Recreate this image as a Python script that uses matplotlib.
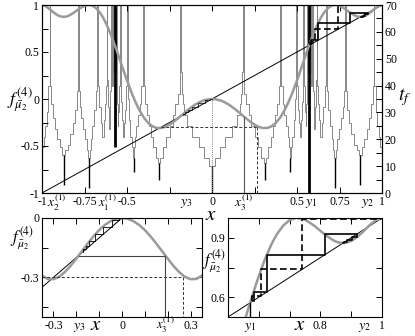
import matplotlib
matplotlib.use('Agg')
import matplotlib.pyplot as plt

plt.rcParams['font.family'] = ['Liberation Serif', 'DejaVu Serif']
plt.rcParams['mathtext.fontset'] = 'stix'
plt.rcParams['axes.unicode_minus'] = False

# ---------------- data ----------------
# f^(4) curve, right half (the curve is symmetric about x = 0)
curve_x = [0, .025, .05, .075, .1, .125, .15, .175, .2, .225, .25, .275, .3, .325,
           .35, .375, .4, .425, .45, .475, .5, .52, .54, .55, .56, .58, .6, .62, .64,
           .65, .66, .68, .7, .72, .74, .75, .76, .78, .8, .82, .84, .85, .86, .88,
           .9, .92, .94, .95, .96, .98, 1.0]
curve_y = [0.0, -0.004, -0.016, -0.035, -0.061, -0.093, -0.129, -0.167, -0.205,
           -0.242, -0.273, -0.297, -0.309, -0.308, -0.291, -0.255, -0.200, -0.126,
           -0.033, 0.076, 0.198, 0.301, 0.407, 0.460, 0.512, 0.613, 0.707, 0.792,
           0.864, 0.894, 0.921, 0.963, 0.989, 1.000, 0.997, 0.991, 0.982, 0.961,
           0.935, 0.910, 0.889, 0.881, 0.876, 0.874, 0.884, 0.905, 0.933, 0.949,
           0.964, 0.989, 1.0]

# t_f staircase, right half: step edges and levels (mirrored on the left)
tf_edges = [0, 0.02, 0.045, 0.075, 0.115, 0.145, 0.163, 0.173, 0.178, 0.1815,
            0.1855, 0.19, 0.20, 0.215, 0.23, 0.25, 0.27, 0.29, 0.303, 0.317, 0.33,
            0.345, 0.36, 0.372, 0.383, 0.392, 0.398, 0.4015, 0.4055, 0.415, 0.425,
            0.435, 0.445, 0.452, 0.458, 0.465, 0.472, 0.48, 0.488, 0.496, 0.4995,
            0.505, 0.512, 0.519, 0.524, 0.53, 0.537, 0.541, 0.546, 0.551, 0.555,
            0.559, 0.563, 0.566, 0.569, 0.574, 0.577, 0.581, 0.585, 0.589, 0.593,
            0.598, 0.602, 0.607, 0.612, 0.615, 0.619, 0.625, 0.632, 0.638, 0.648,
            0.655, 0.663, 0.670, 0.6735, 0.6775, 0.685, 0.693, 0.703, 0.712, 0.719,
            0.731, 0.738, 0.748, 0.758, 0.768, 0.776, 0.783, 0.7865, 0.79, 0.797,
            0.807, 0.82, 0.835, 0.85, 0.864, 0.883, 0.895, 0.91, 0.925, 0.937,
            0.945, 0.9505, 0.9545, 0.962, 0.97, 0.98, 0.99, 1.0]
tf_levels = [10, 13, 17, 21, 25, 29, 33, 37, 45, 70,
             45, 37, 33, 29, 25, 21, 17, 13, 11, 13,
             17, 21, 25, 29, 33, 40, 48, 70, 40, 33,
             29, 25, 21, 17, 13, 17, 21, 27, 35, 70,
             40, 31, 26, 21, 27, 34, 70, 40, 30, 25,
             33, 70, 45, 70, 60, 70, 45, 70, 40, 70,
             38, 28, 24, 32, 42, 70, 40, 33, 27, 21,
             26, 32, 40, 52, 70, 38, 31, 25, 20, 16,
             13, 16, 20, 24, 28, 32, 38, 70, 45, 38,
             31, 26, 22, 18, 16, 14, 17, 20, 24, 28,
             33, 40, 70, 40, 30, 25, 21, 17]

# black segments of t_f (x, low, high), right half
tf_black_x = [0.31, 0.458, 0.725, 0.8735]
tf_black_lo = [5, 8, 2, 3]
tf_black_hi = [11, 13, 13, 14]
tf_zero_x, tf_zero_hi = 0.0, 10

# special points
y1, y2, y3 = 0.5717, 0.953, -0.19
x1_1, x2_1, x3_1 = -0.5717, -0.953, 0.19
x_dash = 0.265
y_dash = -0.3

# cobweb iterates of f^(4)
small_cobweb = [-0.17, -0.159, -0.1423, -0.117, -0.0826, -0.043, -0.0125, -0.001]
solid_cobweb = [0.5828, 0.626, 0.8135, 0.918, 0.9025, 0.8865, 0.8773, 0.8745]
dashed_cobweb = [0.579, 0.608, 0.741, 0.996, 1.0]

# ---------------- helpers ----------------
full_cx = [-v for v in curve_x[::-1]] + curve_x[1:]
full_cy = curve_y[::-1] + curve_y[1:]
full_edges = [-e for e in tf_edges[::-1]] + tf_edges[1:]
full_levels = tf_levels[::-1] + tf_levels
assert len(full_edges) == len(full_levels) + 1


def cobweb(it):
    xs, ys = [it[0]], [it[0]]
    for a, b in zip(it[:-1], it[1:]):
        xs += [a, b]
        ys += [b, b]
    return xs, ys


CURVE = '#9a9a9a'
STAIR = '#808080'

W, H = 415, 336
fig = plt.figure(figsize=(W / 100, H / 100), dpi=100)


def px(x0, y0, x1, y1):
    return [x0 / W, 1 - y1 / H, (x1 - x0) / W, (y1 - y0) / H]


def ftext(x, y, s, size=9, **kw):
    fig.text(x / W, 1 - y / H, s, fontsize=size, ha='center', va='center', **kw)


def style(a):
    a.tick_params(which='both', direction='in', labelsize=8.5, pad=2)
    a.tick_params(which='major', length=4, width=0.7)
    a.tick_params(which='minor', length=4, width=0.7)
    for s in a.spines.values():
        s.set_linewidth(0.8)

# ---------------- top panel ----------------
ax = fig.add_axes(px(42, 5, 382, 193))
ax2 = ax.twinx()
ax.set_zorder(ax2.get_zorder() + 1)
ax.patch.set_visible(False)

ax2.stairs(full_levels, full_edges, baseline=None, color=STAIR, lw=0.65)
bx = [-v for v in tf_black_x] + tf_black_x
ax2.vlines(bx, tf_black_lo + tf_black_lo, tf_black_hi + tf_black_hi, color='k', lw=1.0)
ax2.vlines([tf_zero_x], [0], [tf_zero_hi], color='k', lw=1.0)
ax2.vlines([y1], [0], [70], color='k', lw=2.0)
ax2.vlines([x1_1], [17], [70], color='k', lw=2.0)
ax2.set_ylim(0, 70)
ax2.set_yticks([0, 10, 20, 30, 40, 50, 60, 70])
ax2.set_yticks([5, 15, 25, 35, 45, 55, 65], minor=True)
style(ax2)
ax2.tick_params(which='both', left=False, right=True)

ax.plot([-1, 1], [-1, 1], color='k', lw=0.7)
ax.plot(full_cx, full_cy, color=CURVE, lw=1.8, solid_capstyle='round')
ax.plot([0, 0], [0, -1], color='#888888', lw=0.7, ls=(0, (1, 1)))
ax.plot([y_dash, x_dash], [y_dash, y_dash], color='#333333', lw=0.7, ls=(0, (3, 2)))
ax.plot([x_dash, x_dash], [y_dash, -1], color='#333333', lw=0.7, ls=(0, (3, 2)))
ax.plot([x3_1, x3_1], [y3, -1], color='#555555', lw=0.8)
cx, cy = cobweb(small_cobweb)
ax.plot(cx, cy, color='k', lw=0.5)
cx, cy = cobweb(solid_cobweb)
ax.plot(cx, cy, color='k', lw=1.2)
cx, cy = cobweb(dashed_cobweb)
ax.plot(cx, cy, color='k', lw=1.2, ls=(0, (4, 2)))
ax.set_xlim(-1, 1)
ax.set_ylim(-1, 1)
ax.set_xticks([-1, -0.75, -0.5, 0, 0.5, 0.75, 1])
ax.set_xticklabels(['-1', '-0.75', '-0.5', '0', '0.5', '0.75', '1'])
ax.set_xticks([-0.25, 0.25], minor=True)
ax.set_yticks([-1, -0.5, 0, 0.5, 1])
ax.set_yticklabels(['-1', '-0.5', '0', '0.5', '1'])
ax.set_yticks([-0.75, -0.25, 0.25, 0.75], minor=True)
style(ax)
ax.tick_params(which='both', top=True, right=False)

ftext(57, 203, r'$x_2^{(1)}$', 9.5)
ftext(107, 203, r'$x_1^{(1)}$', 9)
ftext(186, 204, r'$y_3$', 10)
ftext(244, 203, r'$x_3^{(1)}$', 9.5)
ftext(311, 204, r'$y_1$', 10)
ftext(368, 204, r'$y_2$', 10)
ftext(211, 216, r'$x$', 15)
ftext(20, 100, r'$f^{(4)}_{\bar{\mu}_2}$', 13)
ftext(405, 97, r'$t_f$', 14)

# ---------------- bottom-left panel ----------------
bl = fig.add_axes(px(42, 218, 202, 317))
bl.plot([-0.35, 0.0], [-0.35, 0.0], color='k', lw=0.7)
bl.plot(full_cx, full_cy, color=CURVE, lw=1.8)
cx, cy = cobweb(small_cobweb)
bl.plot(cx, cy, color='k', lw=0.6)
bl.plot([y3, x3_1, x3_1], [y3, y3, -0.5], color='#444444', lw=0.8)
bl.plot([-0.35, x_dash, x_dash], [y_dash, y_dash, -0.5], color='#333333', lw=0.7,
        ls=(0, (3, 2)))
bl.set_xlim(-0.35, 0.35)
bl.set_ylim(-0.5, 0)
bl.set_xticks([-0.3, 0, 0.3])
bl.set_xticklabels(['-0.3', '0', '0.3'])
bl.set_xticks([-0.2, -0.1, 0.1, 0.2], minor=True)
bl.set_yticks([-0.3, 0])
bl.set_yticklabels(['-0.3', '0'])
bl.set_yticks([-0.45, -0.15], minor=True)
style(bl)
bl.tick_params(which='both', top=True, right=True)
ftext(79, 328, r'$y_3$', 10)
ftext(165, 325, r'$x_3^{(1)}$', 9)
ftext(96, 326, r'$x$', 15)
ftext(22, 238, r'$f^{(4)}_{\bar{\mu}_2}$', 12)

# ---------------- bottom-right panel ----------------
br = fig.add_axes(px(228, 218, 382, 317))
br.plot([0.5, 1], [0.5, 1], color='k', lw=0.7)
br.plot(full_cx, full_cy, color=CURVE, lw=1.8)
br.plot([y1, y1], [0.5, y1], color='k', lw=1.0)
cx, cy = cobweb(solid_cobweb)
br.plot(cx, cy, color='k', lw=1.2)
cx, cy = cobweb(dashed_cobweb)
br.plot(cx, cy, color='k', lw=1.2, ls=(0, (4, 2)))
br.set_xlim(0.5, 1)
br.set_ylim(0.5, 1)
br.set_xticks([0.8, 1])
br.set_xticklabels(['0.8', '1'])
br.set_xticks([0.6, 0.7, 0.9], minor=True)
br.set_yticks([0.6, 0.9])
br.set_yticklabels(['0.6', '0.9'])
br.set_yticks([0.75], minor=True)
style(br)
br.tick_params(which='both', top=True, right=True)
ftext(250, 328, r'$y_1$', 10)
ftext(365, 328, r'$y_2$', 10)
ftext(300, 326, r'$x$', 15)
ftext(214, 261, r'$f^{(4)}_{\bar{\mu}_2}$', 12)

fig.savefig('out.png', dpi=100)
